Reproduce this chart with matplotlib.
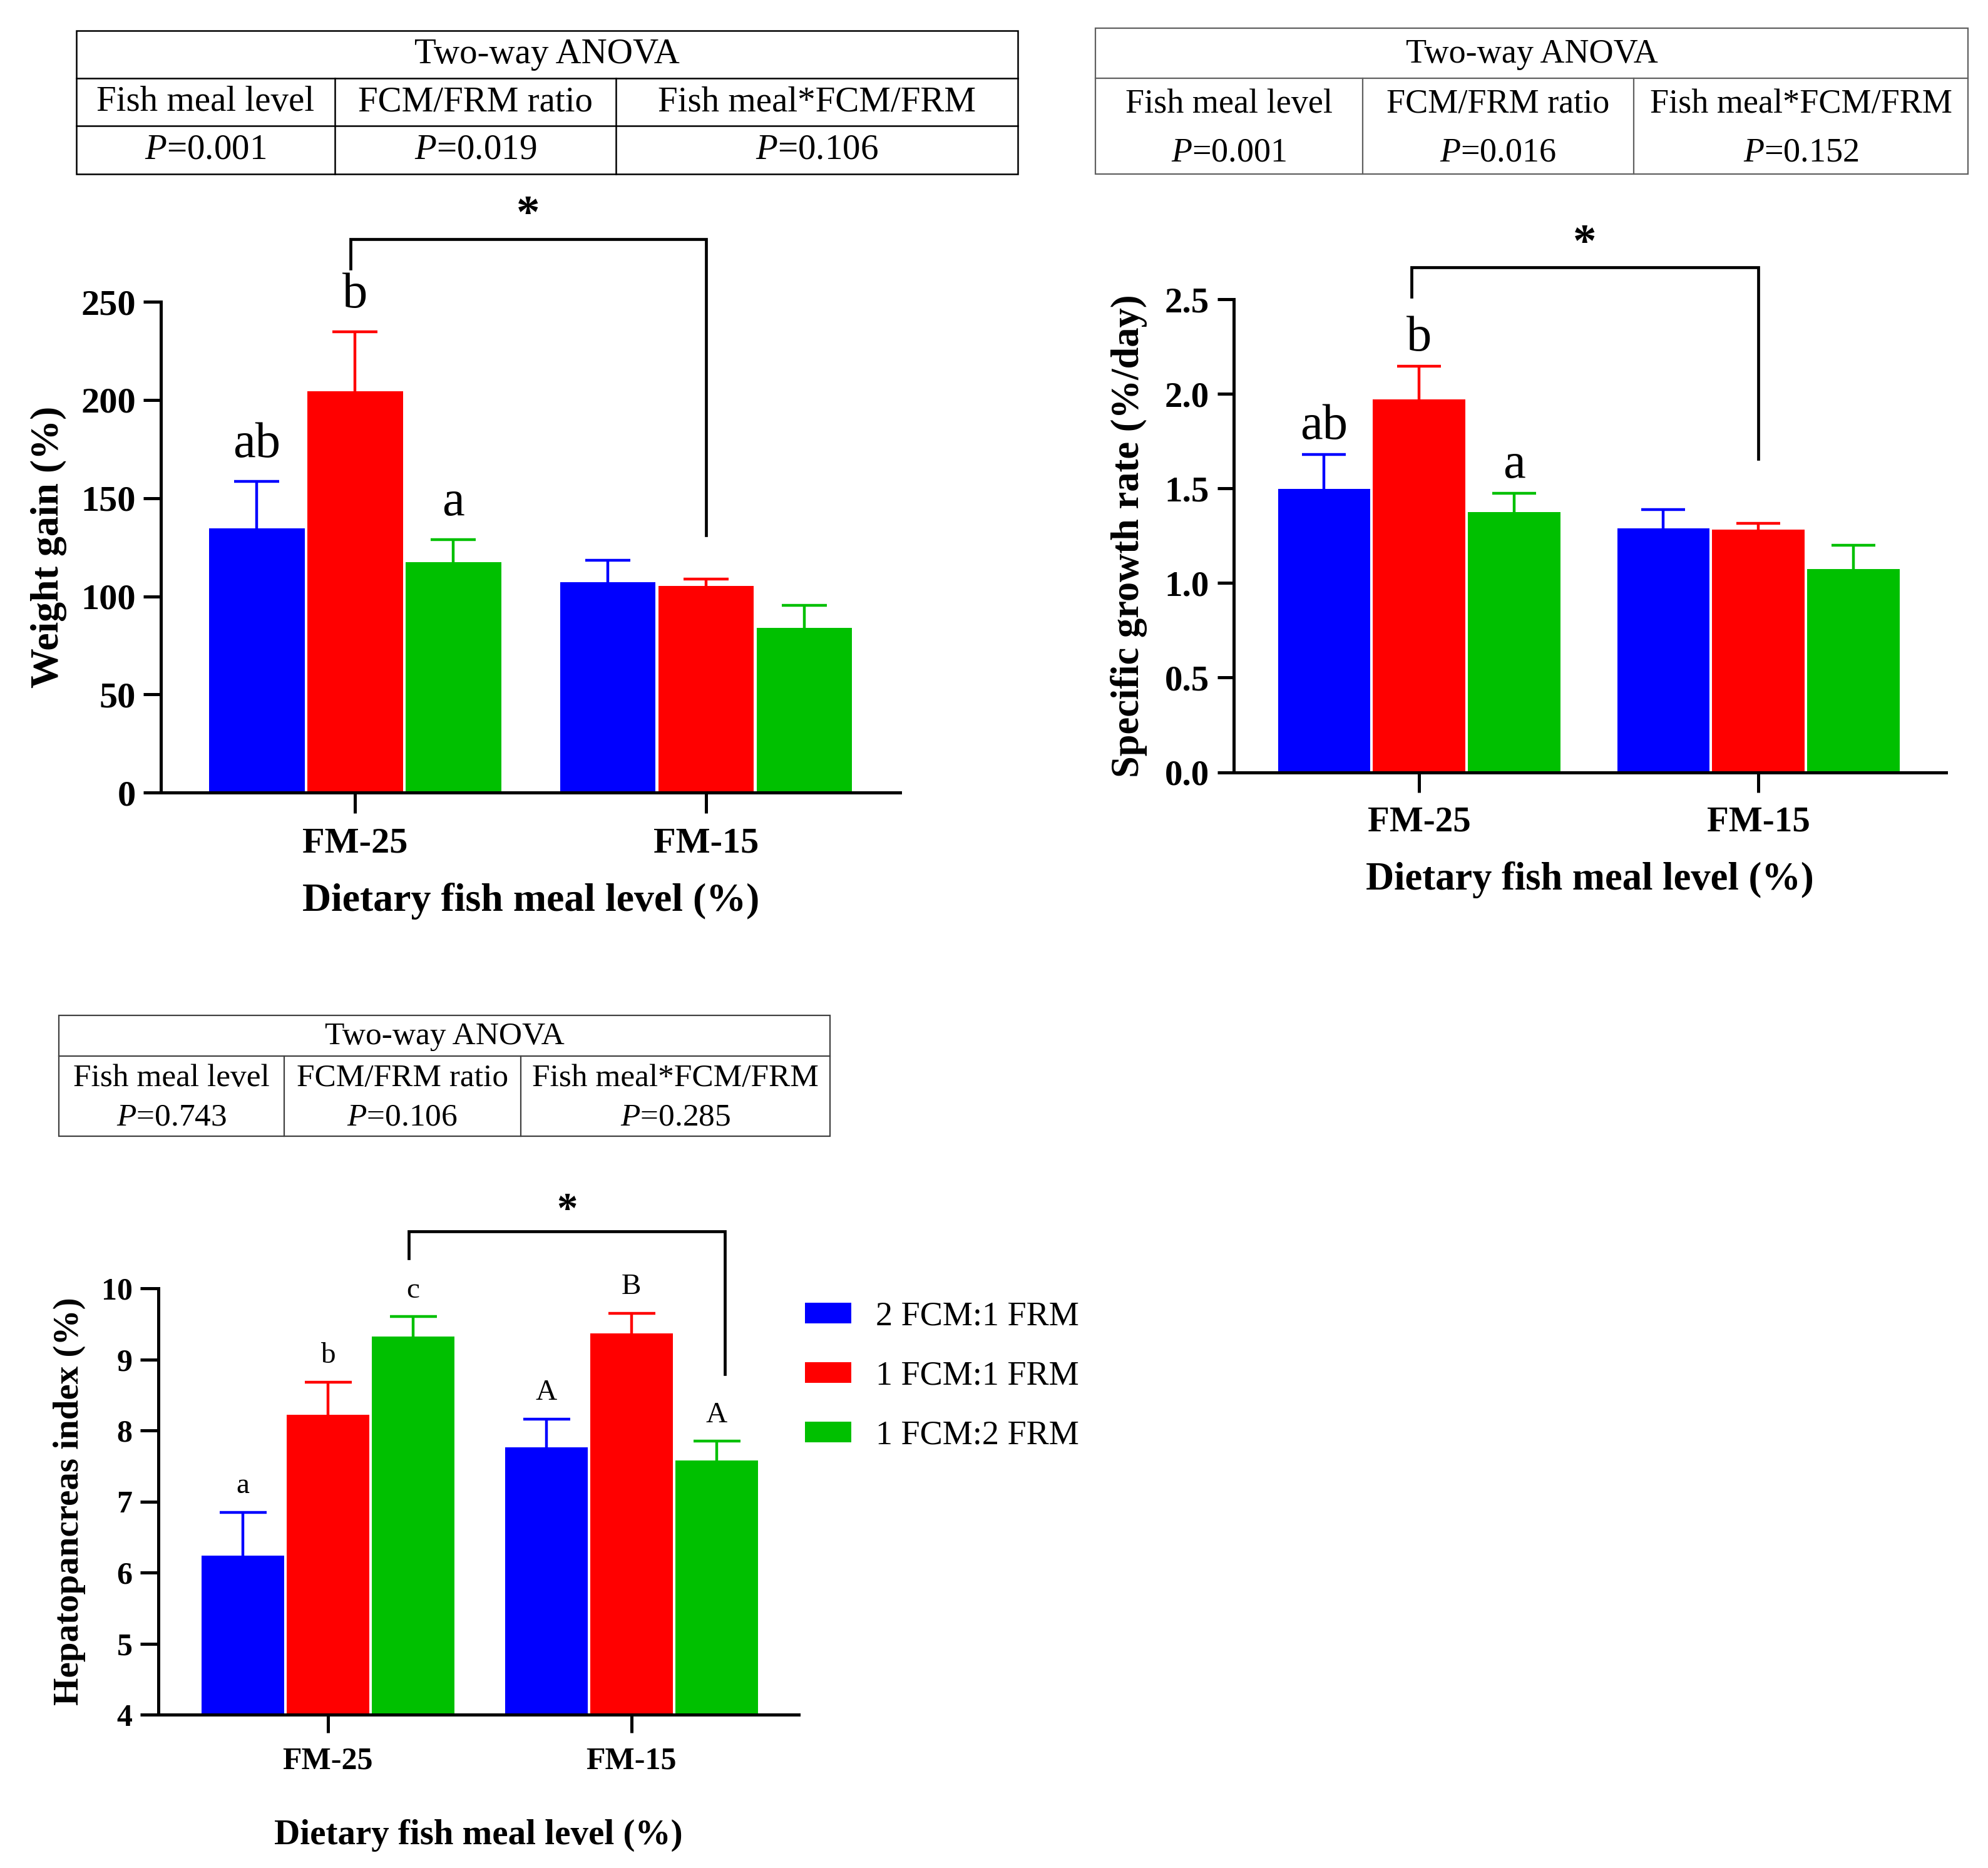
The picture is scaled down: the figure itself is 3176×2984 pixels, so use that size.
import matplotlib
matplotlib.use("Agg")
import matplotlib.pyplot as plt
import numpy as np
from matplotlib.patches import Rectangle

plt.rcParams['font.family'] = ['Liberation Serif', 'DejaVu Serif']
plt.rcParams['mathtext.fontset'] = 'custom'
plt.rcParams['mathtext.rm'] = 'Liberation Serif'
plt.rcParams['mathtext.it'] = 'Liberation Serif:italic'
plt.rcParams['mathtext.bf'] = 'Liberation Serif:bold'

# ---------------- data ----------------
groups = ["FM-25", "FM-15"]
series_names = ["2 FCM:1 FRM", "1 FCM:1 FRM", "1 FCM:2 FRM"]
colors = ["#0000FF", "#FF0000", "#00C000"]

# Weight gain (%)
wg_2f1 = [134.6, 107.2]
wg_1f1 = [204.4, 105.4]
wg_1f2 = [117.3, 83.8]
wg_2f1_err = [24.0, 11.3]
wg_1f1_err = [30.4, 3.3]
wg_1f2_err = [11.5, 11.6]
wg_letters = [["ab", ""], ["b", ""], ["a", ""]]

# Specific growth rate (%/day)
sgr_2f1 = [1.498, 1.290]
sgr_1f1 = [1.971, 1.284]
sgr_1f2 = [1.375, 1.073]
sgr_2f1_err = [0.180, 0.098]
sgr_1f1_err = [0.175, 0.030]
sgr_1f2_err = [0.098, 0.128]
sgr_letters = [["ab", ""], ["b", ""], ["a", ""]]

# Hepatopancreas index (%)
hsi_2f1 = [6.24, 7.76]
hsi_1f1 = [8.22, 9.37]
hsi_1f2 = [9.32, 7.58]
hsi_2f1_err = [0.61, 0.40]
hsi_1f1_err = [0.46, 0.28]
hsi_1f2_err = [0.28, 0.27]
hsi_letters = [["a", "A"], ["b", "B"], ["c", "A"]]

# Two-way ANOVA tables
anova_title = "Two-way ANOVA"
anova_factors = ["Fish meal level", "FCM/FRM ratio", "Fish meal*FCM/FRM"]
wg_p = ["0.001", "0.019", "0.106"]
sgr_p = ["0.001", "0.016", "0.152"]
hsi_p = ["0.743", "0.106", "0.285"]

# ---------------- figure ----------------
fig = plt.figure(figsize=(31.76, 29.84), dpi=100)

OFFS = [-0.28, 0.0, 0.28]
BW = 0.272


def draw_panel(ax, means, errs, letters, ylim, yticks, ytlabels, ylabel,
               xlim, fs_tick, fs_lab, fs_let, let_off, capsize,
               tick_len, ylabelpad, xlabelpad, bracket, fs_star):
    x = np.arange(len(groups))
    handles = []
    for i in range(3):
        xs = x + OFFS[i]
        m = np.array(means[i])
        e = np.array(errs[i])
        b = ax.bar(xs, m, width=BW, color=colors[i], label=series_names[i],
                   zorder=2, linewidth=0)
        handles.append(b)
        eb = ax.errorbar(xs, m, yerr=[np.zeros_like(e), e], fmt='none',
                         ecolor=colors[i], elinewidth=3.2, capsize=capsize,
                         capthick=3.2, zorder=3)
        # keep only the upper cap
        caps = eb[1]
        if len(caps) >= 2:
            caps[0].set_visible(False)
        for j in range(len(groups)):
            if letters[i][j]:
                ax.annotate(letters[i][j], (xs[j], m[j] + e[j]),
                            xytext=(0, let_off), textcoords='offset points',
                            ha='center', va='baseline', fontsize=fs_let,
                            annotation_clip=False)
    ax.set_xlim(*xlim)
    ax.set_ylim(*ylim)
    ax.set_yticks(yticks, ytlabels, fontweight='bold', fontsize=fs_tick)
    ax.set_xticks(x, groups, fontweight='bold', fontsize=fs_tick)
    for s in ['top', 'right']:
        ax.spines[s].set_visible(False)
    for s in ['left', 'bottom']:
        ax.spines[s].set_linewidth(3.6)
    ax.tick_params(axis='y', length=tick_len[0], width=3.6, pad=9)
    ax.tick_params(axis='x', length=tick_len[1], width=3.6, pad=16)
    ax.set_ylabel(ylabel, fontweight='bold', fontsize=fs_lab, labelpad=ylabelpad)
    ax.set_xlabel("Dietary fish meal level (%)", fontweight='bold',
                  fontsize=fs_lab, labelpad=xlabelpad)
    # significance bracket
    x0, x1, yt, yl, yr = bracket
    ax.plot([x0, x0, x1, x1], [yl, yt, yt, yr], color='black', lw=3.4,
            clip_on=False, solid_joinstyle='miter', zorder=4)
    ax.annotate('*', ((x0 + x1) / 2, yt), xytext=(0, 0.25 * fs_star),
                textcoords='offset points', ha='center', va='baseline',
                fontsize=fs_star, fontweight='bold', annotation_clip=False)
    return handles


def draw_table(rect, pvals, col_div, style, fs, color, lw, row_y):
    tax = fig.add_axes(rect)
    tax.set_xlim(0, 1)
    tax.set_ylim(1, 0)
    tax.axis('off')
    tax.add_patch(Rectangle((0, 0), 1, 1, fill=False, ec=color, lw=lw,
                            clip_on=False))
    edges = [0] + list(col_div) + [1]
    centers = [(edges[k] + edges[k + 1]) / 2 for k in range(3)]
    if style == 'grid':
        tax.plot([0, 1], [1 / 3, 1 / 3], color=color, lw=lw, clip_on=False)
        tax.plot([0, 1], [2 / 3, 2 / 3], color=color, lw=lw, clip_on=False)
        top = 1 / 3
    else:
        top = row_y[3]
        tax.plot([0, 1], [top, top], color=color, lw=lw, clip_on=False)
    for d in col_div:
        tax.plot([d, d], [top, 1], color=color, lw=lw, clip_on=False)
    tax.text(0.5, row_y[0], anova_title, ha='center', va='center', fontsize=fs)
    for k in range(3):
        tax.text(centers[k], row_y[1], anova_factors[k], ha='center',
                 va='center', fontsize=fs)
        tax.text(centers[k], row_y[2], r"$\mathit{P}$=" + pvals[k],
                 ha='center', va='center', fontsize=fs)


# ---- Panel 1: weight gain ----
ax1 = fig.add_axes([0.0810, 0.5757, 0.3718, 0.2627])
draw_panel(ax1, [wg_2f1, wg_1f1, wg_1f2], [wg_2f1_err, wg_1f1_err, wg_1f2_err],
           wg_letters, (0, 250), [0, 50, 100, 150, 200, 250],
           ["0", "50", "100", "150", "200", "250"], "Weight gain (%)",
           (-0.553, 1.553), 42, 46, 58, 28, 26, (20, 24), 16, 26,
           (-0.013, 1.0, 282, 267, 131), 54)
draw_table([0.0383, 0.9070, 0.4738, 0.0767], wg_p, [0.2746, 0.573], 'grid',
           41, 'black', 1.8, [1 / 6, 0.5, 5 / 6])

# ---- Panel 2: SGR ----
ax2 = fig.add_axes([0.6205, 0.5866, 0.3585, 0.2532])
draw_panel(ax2, [sgr_2f1, sgr_1f1, sgr_1f2],
           [sgr_2f1_err, sgr_1f1_err, sgr_1f2_err],
           sgr_letters, (0, 2.5), [0, 0.5, 1.0, 1.5, 2.0, 2.5],
           ["0.0", "0.5", "1.0", "1.5", "2.0", "2.5"],
           "Specific growth rate (%/day)",
           (-0.547, 1.554), 41, 45, 58, 18, 25, (19, 23), 20, 26,
           (-0.023, 1.0, 2.668, 2.515, 1.657), 54)
draw_table([0.551, 0.907, 0.439, 0.078], sgr_p, [0.306, 0.617], 'split',
           39, '#606060', 1.6, [0.18, 0.526, 0.855, 0.343])

# ---- Panel 3: HSI ----
ax3 = fig.add_axes([0.0797, 0.0821, 0.3221, 0.2282])
hnd = draw_panel(ax3, [hsi_2f1, hsi_1f1, hsi_1f2],
                 [hsi_2f1_err, hsi_1f1_err, hsi_1f2_err],
                 hsi_letters, (4, 10), [4, 5, 6, 7, 8, 9, 10],
                 ["4", "5", "6", "7", "8", "9", "10"],
                 "Hepatopancreas index (%)",
                 (-0.558, 1.551), 36, 41, 34, 22, 27, (21, 21), 18, 50,
                 (0.267, 1.307, 10.8, 10.42, 8.79), 48)
draw_table([0.0297, 0.3918, 0.3878, 0.0647], hsi_p, [0.2917, 0.599], 'split',
           37, '#404040', 1.6, [0.176, 0.523, 0.847, 0.338])

fig.legend(handles=hnd, labels=series_names, loc='upper left',
           bbox_to_anchor=(0.405, 0.3035), frameon=False, fontsize=39,
           handlelength=1.37, handleheight=0.57, handletextpad=0.72,
           labelspacing=0.82, borderpad=0, borderaxespad=0)

fig.savefig("out.png", dpi=100, facecolor='white')
